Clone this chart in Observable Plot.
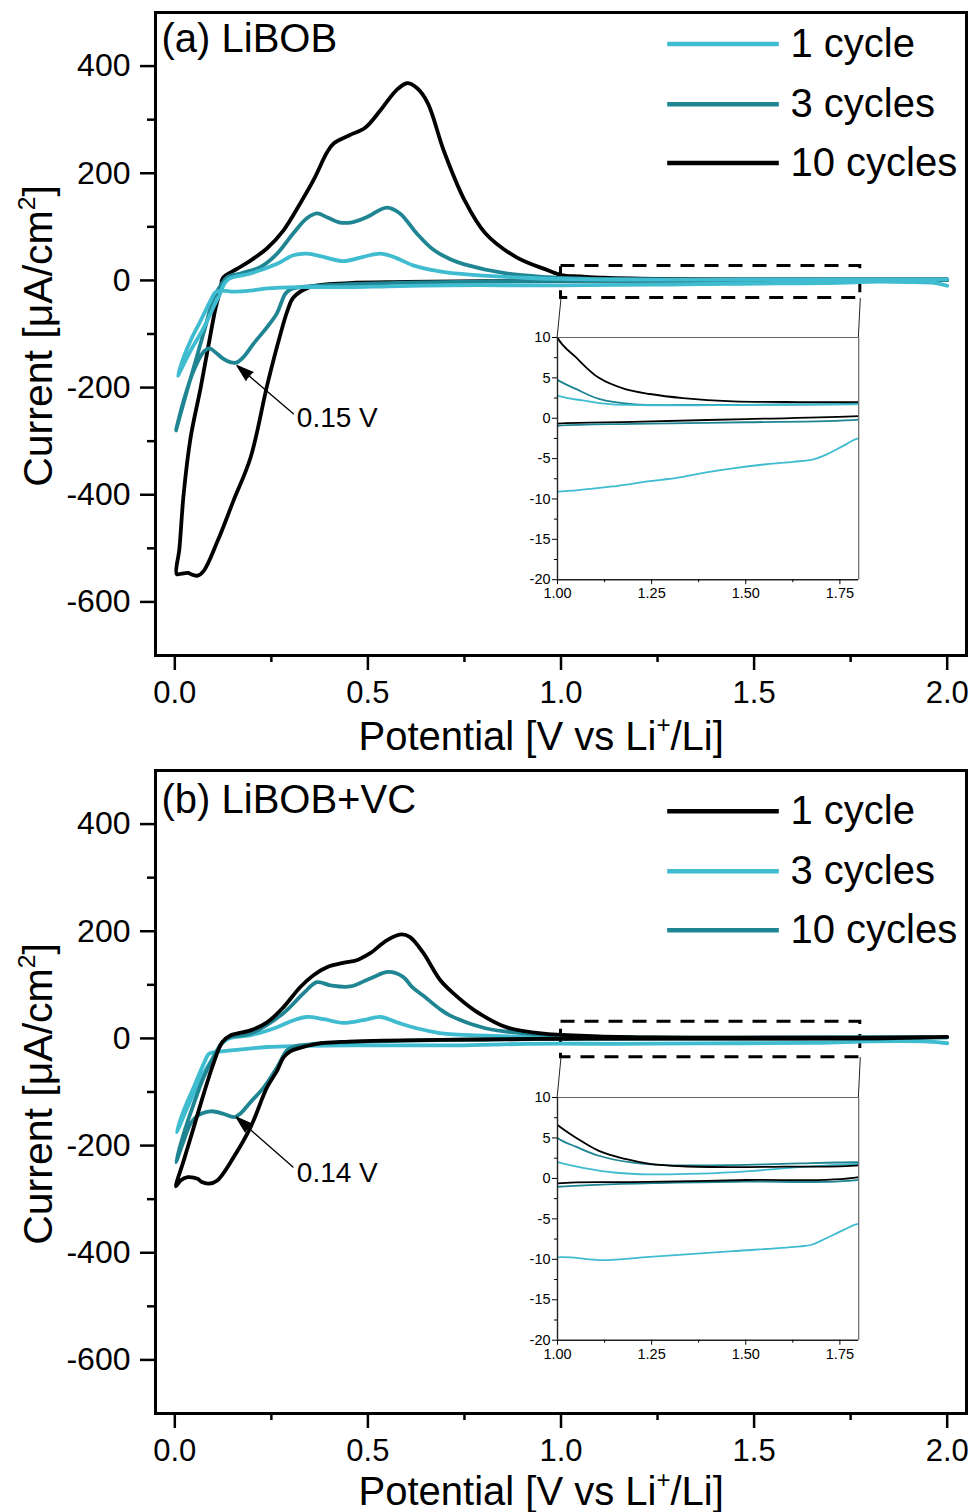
<!DOCTYPE html>
<html>
<head>
<meta charset="utf-8">
<script src="https://cdn.jsdelivr.net/npm/d3@7"></script>
<script src="https://cdn.jsdelivr.net/npm/@observablehq/plot@0.6"></script>
<style>
  html, body { margin: 0; padding: 0; background: #fff; }
  #root { position: relative; width: 973px; height: 1512px; overflow: hidden;
          font-family: "Liberation Sans", Arial, sans-serif; color: #000; }
  #root svg { position: absolute; overflow: visible; }
  .ytitle { position: absolute; font-size: 41px; white-space: nowrap; line-height: 1;
            transform: translate(-50%, -50%) rotate(-90deg); }
  .xtitle { position: absolute; font-size: 40px; white-space: nowrap; line-height: 1;
            transform: translateX(-50%); }
  sup { font-size: 0.6em; line-height: 0; position: relative; top: -0.1em; vertical-align: super; }
</style>
</head>
<body>
<div id="root"></div>
<script>
// ---------------- data ----------------
const FONT = "Liberation Sans, Arial, sans-serif";
const COL_LIGHT = "#3fbccf";
const COL_TEAL = "#1f8592";
const COL_BLACK = "#000000";

const xTicks = [0, 0.5, 1.0, 1.5, 2.0];
const xMinorTicks = [0.25, 0.75, 1.25, 1.75];
const yTicks = [-600, -400, -200, 0, 200, 400];
const yMinorTicks = [-500, -300, -100, 100, 300];
const insetXTicks = [1.00, 1.25, 1.50, 1.75];
const insetXMinor = [1.125, 1.375, 1.625];
const insetYTicks = [-20, -15, -10, -5, 0, 5, 10];
const insetYMinor = [-17.5, -12.5, -7.5, -2.5, 2.5, 7.5];
const legendLabels = ["1 cycle", "3 cycles", "10 cycles"];

// Panel (a) LiBOB : [potential V, current µA/cm²] along each cycle (cathodic then anodic sweep)
const aCycle1 = [[2.0,-10],[1.97,-5],[1.9,-3],[1.8,-2.5],[1.76,-3.4],[1.714,-4.5],[1.68,-5.1],[1.626,-5.4],[1.555,-5.7],[1.466,-6.2],[1.395,-6.7],[1.316,-7.4],[1.245,-7.8],[1.156,-8.4],[1.0,-9.1],[0.85,-9],[0.712,-9],[0.55,-11],[0.454,-12.5],[0.325,-12.5],[0.239,-15],[0.196,-19],[0.152,-21],[0.123,-19],[0.105,-22],[0.093,-37],[0.067,-75],[0.041,-112],[0.023,-143],[0.008,-178],[0.015,-168],[0.041,-131],[0.075,-88],[0.1,-50],[0.119,-22],[0.128,-6],[0.14,3],[0.196,13],[0.265,31],[0.307,47],[0.342,50],[0.385,44],[0.436,36],[0.488,44],[0.532,50],[0.566,44],[0.617,28],[0.668,19],[0.712,14],[0.8,9],[0.9,5],[1.0,2.8],[1.067,2.2],[1.138,1.74],[1.29,1.6],[1.5,1.65],[1.8,1.74],[1.9,2],[2.0,2]];
const aCycle3 = [[2.0,1],[1.8,-0.17],[1.5,-0.5],[1.2,-0.7],[1.0,-0.95],[0.8,-2],[0.6,-4],[0.45,-7],[0.36,-10],[0.32,-13],[0.299,-17],[0.286,-25],[0.264,-62],[0.239,-87],[0.204,-118],[0.178,-143],[0.161,-153],[0.145,-153],[0.125,-146],[0.105,-134],[0.09,-127],[0.075,-133],[0.049,-168],[0.023,-224],[0.003,-280],[0.028,-215],[0.054,-150],[0.08,-84],[0.1,-34],[0.119,-9],[0.136,6],[0.17,13],[0.222,25],[0.265,50],[0.307,88],[0.342,116],[0.368,125],[0.394,118],[0.428,108],[0.462,109],[0.497,118],[0.549,136],[0.583,125],[0.626,88],[0.668,58],[0.712,40],[0.75,30],[0.858,13],[0.966,6],[1.0,4.75],[1.05,3.6],[1.11,2.4],[1.2,1.74],[1.38,1.65],[1.6,1.7],[1.8,1.8],[2.0,2]];
const aCycle10 = [[2.0,1],[1.8,0.25],[1.5,-0.1],[1.2,-0.45],[1.0,-0.66],[0.8,-1.5],[0.6,-3],[0.45,-5],[0.351,-12],[0.307,-32],[0.292,-56],[0.274,-99],[0.24,-193],[0.196,-331],[0.152,-411],[0.111,-486],[0.075,-542],[0.059,-551],[0.045,-549],[0.034,-546],[0.018,-547],[0.005,-548],[0.012,-500],[0.023,-398],[0.041,-293],[0.067,-200],[0.088,-118],[0.106,-50],[0.119,-15],[0.124,4],[0.162,22],[0.196,37],[0.239,60],[0.281,93],[0.325,144],[0.359,187],[0.395,240],[0.412,256],[0.452,271],[0.493,285],[0.533,318],[0.574,355],[0.601,368],[0.627,359],[0.655,331],[0.696,243],[0.75,150],[0.804,88],[0.885,43],[0.966,19],[1.0,10],[1.05,7.5],[1.11,5.0],[1.18,3.6],[1.245,3.0],[1.333,2.5],[1.466,2.1],[1.644,2.0],[1.8,2.0],[2.0,2]];

// Panel (b) LiBOB+VC
const bCycle1 = [[2.0,3],[1.8,0.17],[1.5,-0.2],[1.2,-0.45],[1.0,-0.62],[0.8,-2],[0.54,-4],[0.45,-6],[0.368,-10],[0.317,-19],[0.299,-24],[0.281,-36],[0.265,-60],[0.239,-91],[0.196,-166],[0.152,-222],[0.11,-265],[0.088,-271],[0.07,-268],[0.059,-262],[0.033,-259],[0.015,-265],[0.003,-276],[0.023,-228],[0.049,-166],[0.075,-103],[0.1,-47],[0.123,-7],[0.145,6],[0.196,15],[0.239,30],[0.281,58],[0.325,96],[0.359,118],[0.394,133],[0.436,141],[0.471,146],[0.506,159],[0.549,183],[0.586,194],[0.609,189],[0.643,160],[0.686,110],[0.72,85],[0.777,52],[0.858,21],[0.966,8],[1.0,6.6],[1.05,5.0],[1.11,3.4],[1.18,2.4],[1.245,1.8],[1.333,1.5],[1.466,1.4],[1.6,1.45],[1.8,1.6],[2.0,3]];
const bCycle3 = [[2.0,-9],[1.95,-6],[1.8,-5.6],[1.759,-6.4],[1.714,-7.4],[1.675,-8.2],[1.644,-8.4],[1.466,-9.0],[1.245,-9.7],[1.12,-10.1],[1.0,-9.75],[0.85,-11],[0.712,-13],[0.454,-13],[0.325,-14],[0.239,-16],[0.152,-22],[0.1,-26],[0.088,-29],[0.075,-47],[0.049,-91],[0.023,-135],[0.005,-175],[0.033,-128],[0.067,-75],[0.1,-35],[0.123,-9],[0.14,0],[0.196,6],[0.265,21],[0.308,34],[0.342,40],[0.385,36],[0.436,29],[0.488,34],[0.532,40],[0.575,30],[0.626,19],[0.686,10],[0.712,8],[0.85,4],[1.0,2.0],[1.067,1.3],[1.156,0.7],[1.245,0.5],[1.378,0.58],[1.51,0.9],[1.644,1.4],[1.8,1.8],[2.0,2]];
const bCycle10 = [[2.0,2],[1.8,-0.17],[1.5,-0.4],[1.29,-0.54],[1.0,-1.03],[0.8,-2],[0.6,-4],[0.45,-7],[0.35,-11],[0.31,-15],[0.291,-22],[0.265,-54],[0.231,-91],[0.196,-119],[0.17,-140],[0.153,-147],[0.127,-141],[0.093,-136],[0.059,-144],[0.041,-159],[0.023,-191],[0.003,-231],[0.023,-178],[0.049,-122],[0.075,-72],[0.1,-35],[0.123,-7],[0.14,2],[0.196,9],[0.281,47],[0.333,84],[0.368,105],[0.403,99],[0.454,97],[0.506,112],[0.553,124],[0.591,115],[0.614,96],[0.643,80],[0.686,55],[0.712,43],[0.804,19],[0.912,9],[1.0,5],[1.05,3.9],[1.11,2.8],[1.2,1.94],[1.29,1.65],[1.466,1.65],[1.644,1.86],[1.8,2.0],[2.0,2]];

// annotations / zoom window (data coordinates)
const annotA = {text: "0.15 V", tx: 0.316, ty: -257, x1: 0.307, y1: -249, x2: 0.161, y2: -159};
const annotB = {text: "0.14 V", tx: 0.316, ty: -251, x1: 0.306, y1: -240, x2: 0.159, y2: -147};
const zoomA = {x1: 1.0, x2: 1.775, y1: -33, y2: 27};
const zoomB = {x1: 1.0, x2: 1.775, y1: -35, y2: 31};
const insetA = {x1: 0.99, x2: 1.77, yTop: -106, yBot: -558};
const insetB = {x1: 0.99, x2: 1.77, yTop: -110, yBot: -563};

// ---------------- drawing ----------------
const root = document.getElementById("root");
const px = d => d[0], py = d => d[1];

function drawPanel(cfg) {
  const {top, height, legend, drawOrder, legendY, label, labelDy, annot, zoom, inset} = cfg;
  const legendData = legend.map((s, i) => ({label: s.name, color: s.color, y: legendY[i]}));
  const connectors = [
    {x1: zoom.x1, y1: zoom.y1, x2: inset.x1, y2: inset.yTop},
    {x1: zoom.x2, y1: zoom.y1, x2: inset.x2, y2: inset.yTop}
  ];
  const lines = drawOrder.map(s => Plot.line(s.pts, {
    x: px, y: py, stroke: s.color, strokeWidth: 3.8, curve: "catmull-rom",
    strokeLinejoin: "round", strokeLinecap: "round"
  }));
  const p = Plot.plot({
    width: 973, height,
    marginLeft: 155, marginRight: 7, marginTop: 12, marginBottom: height - 655,
    x: {domain: [-0.05, 2.05]},
    y: {domain: [-700, 500]},
    color: {type: "identity"},
    style: {fontFamily: FONT, background: "transparent", color: "#000", overflow: "visible"},
    marks: [
      Plot.axisX(xTicks, {tickSize: 15, tickPadding: 10, fontSize: 31, strokeWidth: 2.5,
        tickFormat: d3.format(".1f"), label: null}),
      Plot.axisX(xMinorTicks, {tickSize: 7, strokeWidth: 2.5, tickFormat: () => "", label: null}),
      Plot.axisY(yTicks, {tickSize: 15, tickPadding: 10, fontSize: 32, strokeWidth: 2.5,
        tickFormat: d => String(d), label: null}),
      Plot.axisY(yMinorTicks, {tickSize: 8, strokeWidth: 2.5, tickFormat: () => "", label: null}),
      Plot.rect([zoom], {x1: "x1", x2: "x2", y1: "y1", y2: "y2", fill: "none", stroke: "#000",
        strokeWidth: 3, strokeDasharray: "14,10"}),
      Plot.link(connectors, {x1: "x1", y1: "y1", x2: "x2", y2: "y2", stroke: "#222", strokeWidth: 1}),
      ...lines,
      Plot.link(legendData, {x1: () => 1.275, x2: () => 1.564, y1: "y", y2: "y", stroke: "color", strokeWidth: 4.5}),
      Plot.text(legendData, {x: () => 1.594, y: "y", text: "label", textAnchor: "start", fontSize: 40}),
      Plot.text([label], {frameAnchor: "top-left", dx: 6, dy: labelDy, text: d => d,
        textAnchor: "start", lineAnchor: "top", fontSize: 40}),
      Plot.arrow([annot], {x1: "x1", y1: "y1", x2: "x2", y2: "y2", stroke: "#000", fill: "#000",
        strokeWidth: 1.3, headLength: 20, headAngle: 35}),
      Plot.text([annot], {x: "tx", y: "ty", text: "text", textAnchor: "start", fontSize: 28}),
      Plot.frame({strokeWidth: 3})
    ]
  });
  p.style.left = "0px";
  p.style.top = top + "px";
  root.appendChild(p);

  // inset placed with the main plot's own scales
  const sx = p.scale("x"), sy = p.scale("y");
  const ix1 = sx.apply(inset.x1), ix2 = sx.apply(inset.x2);
  const iy1 = sy.apply(inset.yTop), iy2 = sy.apply(inset.yBot);
  const mL = 50, mR = 12, mT = 12, mB = 32;
  const ilines = drawOrder.map(s => Plot.line(s.pts, {
    x: px, y: py, stroke: s.color, strokeWidth: 1.8, curve: "catmull-rom", clip: true
  }));
  const ip = Plot.plot({
    width: (ix2 - ix1) + mL + mR, height: (iy2 - iy1) + mT + mB,
    marginLeft: mL, marginRight: mR, marginTop: mT, marginBottom: mB,
    x: {domain: [1.0, 1.8]},
    y: {domain: [-20, 10]},
    style: {fontFamily: FONT, background: "transparent", color: "#000", overflow: "visible"},
    marks: [
      ...ilines,
      Plot.ruleY([10], {stroke: "#666", strokeWidth: 1.2}),
      Plot.ruleX([1.8], {stroke: "#666", strokeWidth: 1.2}),
      Plot.ruleY([-20], {stroke: "#222", strokeWidth: 1.4}),
      Plot.ruleX([1.0], {stroke: "#222", strokeWidth: 1.4}),
      Plot.axisY(insetYTicks, {tickSize: 5, tickPadding: 2, fontSize: 14.5, strokeWidth: 1,
        tickFormat: d => String(d), label: null}),
      Plot.axisY(insetYMinor, {tickSize: 3, strokeWidth: 1, tickFormat: () => "", label: null}),
      Plot.axisX(insetXTicks, {tickSize: 5, tickPadding: 3, fontSize: 14.5, strokeWidth: 1,
        tickFormat: d3.format(".2f"), label: null}),
      Plot.axisX(insetXMinor, {tickSize: 3, strokeWidth: 1, tickFormat: () => "", label: null})
    ]
  });
  ip.style.left = (ix1 - mL) + "px";
  ip.style.top = (top + iy1 - mT) + "px";
  root.appendChild(ip);

  // axis titles (HTML so superscripts stay real text)
  const yt = document.createElement("div");
  yt.className = "ytitle";
  yt.innerHTML = "Current [μA/cm<sup>2</sup>]";
  yt.style.left = "38px";
  yt.style.top = (top + sy.apply(-105)) + "px";
  root.appendChild(yt);

  const xt = document.createElement("div");
  xt.className = "xtitle";
  xt.innerHTML = "Potential [V vs Li<sup>+</sup>/Li]";
  xt.style.left = (sx.apply(0.95)) + "px";
  xt.style.top = (top + cfg.xTitleTop) + "px";
  root.appendChild(xt);
}

drawPanel({
  top: 0, height: 758,
  legend: [{name: legendLabels[0], color: COL_LIGHT}, {name: legendLabels[1], color: COL_TEAL}, {name: legendLabels[2], color: COL_BLACK}],
  drawOrder: [{pts: aCycle10, color: COL_BLACK}, {pts: aCycle3, color: COL_TEAL}, {pts: aCycle1, color: COL_LIGHT}],
  legendY: [441, 329, 219],
  label: "(a) LiBOB", labelDy: 11,
  annot: annotA, zoom: zoomA, inset: insetA,
  xTitleTop: 716
});

drawPanel({
  top: 758, height: 754,
  legend: [{name: legendLabels[0], color: COL_BLACK}, {name: legendLabels[1], color: COL_LIGHT}, {name: legendLabels[2], color: COL_TEAL}],
  drawOrder: [{pts: bCycle3, color: COL_LIGHT}, {pts: bCycle10, color: COL_TEAL}, {pts: bCycle1, color: COL_BLACK}],
  legendY: [424, 312, 202],
  label: "(b) LiBOB+VC", labelDy: 14,
  annot: annotB, zoom: zoomB, inset: insetB,
  xTitleTop: 713
});
</script>
</body>
</html>
